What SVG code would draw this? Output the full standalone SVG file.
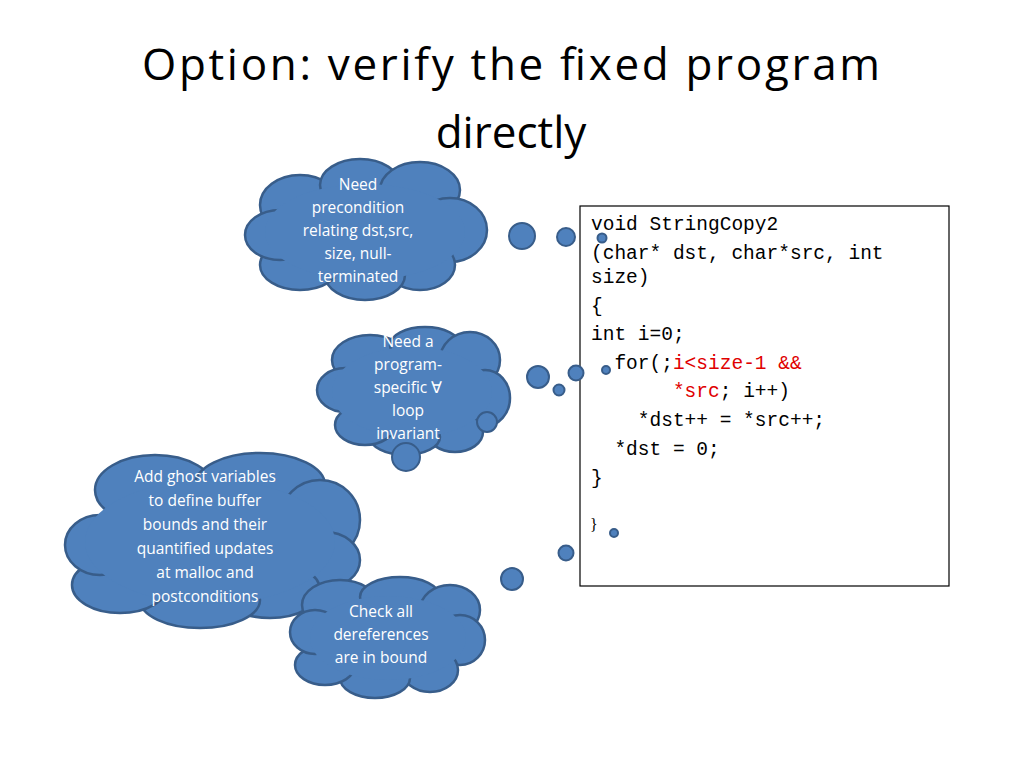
<svg xmlns="http://www.w3.org/2000/svg" width="1024" height="768" viewBox="0 0 1024 768">
<style>
.o ellipse,.o circle{fill:#4f81bd;stroke:#385d8a;stroke-width:2.5}
.f ellipse{fill:#4f81bd;stroke:none}
.b{fill:#4f81bd;stroke:#385d8a;stroke-width:2}
.t{font-family:"Open Sans","Liberation Sans",sans-serif;font-size:15.5px;fill:#fff;text-anchor:middle}
.c{font-family:"Liberation Mono","DejaVu Sans Mono",monospace;font-size:19.5px;fill:#000}
.r{fill:#e00000}
</style>
<rect width="1024" height="768" fill="#fff"/>
<text x="511" y="80" font-family="Open Sans,Liberation Sans,sans-serif" font-size="44" text-anchor="middle" textLength="738">Option: verify the fixed program</text>
<text x="511" y="148" font-family="Open Sans,Liberation Sans,sans-serif" font-size="44" text-anchor="middle">directly</text>

<g id="code">
<rect x="580" y="206" width="369" height="380" fill="#fff" stroke="#000" stroke-width="1.2"/>
<text class="c" x="591" y="230">void StringCopy2</text>
<text class="c" x="591" y="259">(char* dst, char*src, int</text>
<text class="c" x="591" y="283">size)</text>
<text class="c" x="591" y="312">{</text>
<text class="c" x="591" y="340">  int i=0;</text>
<text class="c" x="591" y="369" xml:space="preserve">  for(;<tspan class="r">i&lt;size-1 &amp;&amp;</tspan></text>
<text class="c" x="591" y="397" xml:space="preserve">       <tspan class="r">*src</tspan>; i++)</text>
<text class="c" x="591" y="426" xml:space="preserve">    *dst++ = *src++;</text>
<text class="c" x="591" y="455" xml:space="preserve">  *dst = 0;</text>
<text class="c" x="591" y="484">}</text>
<text x="590" y="530" font-family="Liberation Serif,serif" font-size="16">}</text>
</g>

<g id="cloud1">
<g class="o"><ellipse cx="300" cy="205" rx="40" ry="30"/><ellipse cx="360" cy="185" rx="40" ry="26"/><ellipse cx="420" cy="190" rx="40" ry="28"/><ellipse cx="450" cy="230" rx="37" ry="32"/><ellipse cx="420" cy="265" rx="35" ry="25"/><ellipse cx="365" cy="275" rx="40" ry="25"/><ellipse cx="300" cy="265" rx="40" ry="25"/><ellipse cx="280" cy="235" rx="35" ry="25"/></g>
<g class="f"><ellipse cx="365" cy="232" rx="100" ry="48"/></g>
<text class="t" x="358" y="190">Need</text><text class="t" x="358" y="213">precondition</text><text class="t" x="358" y="236">relating dst,src,</text><text class="t" x="358" y="259">size, null-</text><text class="t" x="358" y="282">terminated</text>
</g>

<g id="cloud2">
<g class="o"><ellipse cx="370" cy="360" rx="38" ry="25"/><ellipse cx="425" cy="345" rx="35" ry="18"/><ellipse cx="470" cy="360" rx="30" ry="28"/><ellipse cx="485" cy="398" rx="25" ry="28"/><ellipse cx="455" cy="432" rx="28" ry="20"/><ellipse cx="405" cy="437" rx="35" ry="18"/><ellipse cx="365" cy="425" rx="30" ry="20"/><ellipse cx="345" cy="390" rx="28" ry="22"/></g>
<g class="f"><ellipse cx="412" cy="392" rx="80" ry="45"/></g>
<text class="t" x="408" y="347">Need a</text><text class="t" x="408" y="370">program-</text><text class="t" x="408" y="393">specific ∀</text><text class="t" x="408" y="416">loop</text><text class="t" x="408" y="439">invariant</text>
</g>

<g id="cloud3">
<g class="o"><ellipse cx="155" cy="490" rx="60" ry="35"/><ellipse cx="260" cy="485" rx="65" ry="32"/><ellipse cx="320" cy="520" rx="40" ry="40"/><ellipse cx="325" cy="560" rx="35" ry="28"/><ellipse cx="270" cy="590" rx="50" ry="28"/><ellipse cx="200" cy="600" rx="60" ry="28"/><ellipse cx="120" cy="585" rx="48" ry="28"/><ellipse cx="100" cy="545" rx="35" ry="30"/></g>
<g class="f"><ellipse cx="210" cy="542" rx="125" ry="62"/></g>
<text class="t" x="205" y="482">Add ghost variables</text><text class="t" x="205" y="506">to define buffer</text><text class="t" x="205" y="530">bounds and their</text><text class="t" x="205" y="554">quantified updates</text><text class="t" x="205" y="578">at malloc and</text><text class="t" x="205" y="602">postconditions</text>
</g>

<g id="cloud4">
<g class="o"><ellipse cx="340" cy="605" rx="38" ry="25"/><ellipse cx="400" cy="597" rx="40" ry="20"/><ellipse cx="450" cy="610" rx="30" ry="25"/><ellipse cx="460" cy="640" rx="25" ry="25"/><ellipse cx="430" cy="670" rx="28" ry="22"/><ellipse cx="375" cy="678" rx="35" ry="20"/><ellipse cx="325" cy="665" rx="30" ry="20"/><ellipse cx="315" cy="632" rx="25" ry="22"/></g>
<g class="f"><ellipse cx="388" cy="638" rx="78" ry="42"/></g>
<text class="t" x="381" y="617">Check all</text><text class="t" x="381" y="640">dereferences</text><text class="t" x="381" y="663">are in bound</text>
</g>

<g id="connectors">
<circle class="b" cx="522" cy="236" r="13"/><circle class="b" cx="566" cy="237" r="9"/><circle class="b" cx="602" cy="238" r="4.5"/>
<circle class="b" cx="538" cy="377" r="11"/><circle class="b" cx="576" cy="373" r="7.5"/><circle class="b" cx="559" cy="390" r="5.5"/><circle class="b" cx="606" cy="370" r="4"/>
<circle class="b" cx="487" cy="422" r="10"/><circle class="b" cx="406" cy="457" r="14"/>
<circle class="b" cx="512" cy="579" r="11"/><circle class="b" cx="566" cy="553" r="7.5"/><circle class="b" cx="614" cy="533" r="4"/>
</g>
</svg>
